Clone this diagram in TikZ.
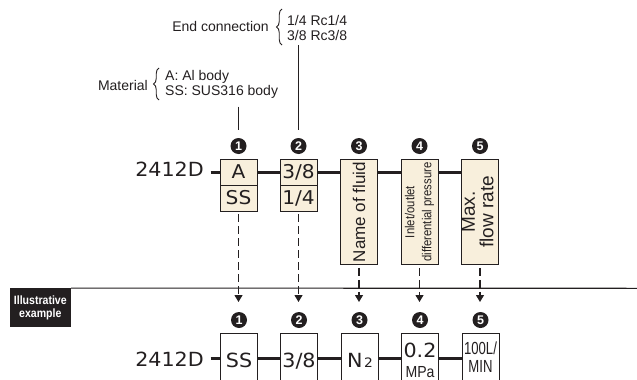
\documentclass[tikz,border=0pt]{standalone}
\usepackage{fontspec}
\usepackage{graphicx}
\setmainfont{Liberation Sans}
\newfontfamily\widefont[FakeStretch=1.06]{DejaVu Sans}
\usetikzlibrary{decorations.pathreplacing,arrows.meta}
\definecolor{ink}{HTML}{231F20}
\definecolor{cream}{HTML}{F8EFDC}
\begin{document}
\begin{tikzpicture}[x=1pt,y=-1pt,
  every node/.style={text=ink},
  cell/.style={draw=ink, fill=cream, line width=0.9pt, minimum width=37pt, minimum height=26pt, inner sep=0pt,
     text height=13.6pt, text depth=0pt, font=\widefont\fontsize{19}{19}\selectfont},
  tallcell/.style={draw=ink, fill=cream, line width=0.9pt, minimum width=37pt, minimum height=105pt, inner sep=0pt},
  lowcell/.style={draw=ink, fill=white, line width=0.9pt, minimum width=37pt, minimum height=60pt, inner sep=0pt},
  num/.style={circle, fill=ink, text=white, minimum size=16pt, inner sep=0pt, font=\bfseries\fontsize{12.5}{12.5}\selectfont},
  mainline/.style={draw=ink, line width=3pt},
  leader/.style={draw=ink, line width=0.9pt},
  dasharrow/.style={draw=ink, line width=1.1pt, dash pattern=on 8pt off 4pt, -{Triangle[width=8pt,length=7pt]}},
  bracestyle/.style={draw=ink, line width=0.9pt, decorate, decoration={brace, amplitude=5.5pt}},
  lab/.style={inner sep=0pt, font=\fontsize{14}{15}\selectfont, align=left},
  big/.style={inner sep=0pt, font=\widefont\fontsize{19.5}{19.5}\selectfont}
]
\useasboundingbox (0,0) rectangle (637,380);
\clip (0,0) rectangle (637,380);

% ---- callouts ----
\node[lab, anchor=east] (endc) at (269,26) {End connection};
\node[lab, anchor=west] (endv) at (287,27.5) {1/4 Rc1/4\\3/8 Rc3/8};
\draw[bracestyle] (282,45) -- (282,9);
\node[lab, anchor=east] (mat) at (148,85) {Material};
\node[lab, anchor=west] (matv) at (165,84.5) {A: Al body\\SS: SUS316 body};
\draw[bracestyle] (159,100) -- (159,68);

\coordinate (l1a) at (238.5,106.5);
\coordinate (l1b) at (238.5,130);
\coordinate (l2a) at (298.5,45);
\coordinate (l2b) at (298.5,130);
\draw[leader] (l1a) -- (l1b);
\draw[leader] (l2a) -- (l2b);

% ---- top row ----
\node[num] (n1) at (238.5,146) {1};
\node[num] (n2) at (298.5,146) {2};
\node[num] (n3) at (359,146) {3};
\node[num] (n4) at (419.5,146) {4};
\node[num] (n5) at (480,146) {5};

\node[big, anchor=base east] (t0) at (204,176.5) {2412D};
\coordinate (m0) at (210.5,172);

\node[tallcell] (b3) at (359,212) {\rotatebox{90}{\fontsize{17}{17}\selectfont Name of fluid}};
\node[tallcell] (b4) at (419.5,212) {\rotatebox{90}{\scalebox{0.87}[1]{\fontsize{13}{17}\selectfont\begin{tabular}{@{}c@{}}Inlet/outlet\\differential pressure\end{tabular}}}};
\node[tallcell] (b5) at (480,212) {\rotatebox{90}{\fontsize{19}{16}\selectfont\begin{tabular}{@{}c@{}}Max.\\flow rate\end{tabular}}};

\node[cell] (a1) at (238.5,172) {A};
\node[cell] (s1) at (238.5,198) {SS};
\node[cell] (a2) at (298.5,172) {3/8};
\node[cell] (s2) at (298.5,198) {1/4};
\draw[mainline] (m0) -- (a1.west);
\draw[mainline] (a1.east) -- (a2.west);
\draw[mainline] (a2.east) -- (b3.west |- a2.east);
\draw[mainline] (b3.east |- a2.east) -- (b4.west |- a2.east);
\draw[mainline] (b4.east |- a2.east) -- (b5.west |- a2.east);

% ---- dashed arrows ----
\coordinate (e1) at (238.5,302);
\coordinate (e2) at (298.5,302);
\coordinate (e3) at (359,302);
\coordinate (e4) at (419.5,302);
\coordinate (e5) at (480,302);
\draw[dasharrow] ([yshift=-3pt]s1.south) -- (e1);
\draw[dasharrow] ([yshift=-3pt]s2.south) -- (e2);
\draw[dasharrow] ([yshift=-3pt]b3.south) -- (e3);
\draw[dasharrow] ([yshift=-3pt]b4.south) -- (e4);
\draw[dasharrow] ([yshift=-3pt]b5.south) -- (e5);

% ---- divider & label ----
\node[fill=ink, minimum width=61pt, minimum height=39pt, inner sep=0pt, text=white,
      font=\bfseries\fontsize{12}{13}\selectfont, align=center] (ill) at (40.3,307.8)
      {\scalebox{0.88}[1]{Illustrative}\\\scalebox{0.88}[1]{example}};
\coordinate (dv) at (637,288.3);
\draw[draw=ink, line width=1.1pt] (ill.north east) -- (dv);

% ---- bottom row ----
\node[num] (q1) at (239,320) {1};
\node[num] (q2) at (299,320) {2};
\node[num] (q3) at (359.5,320) {3};
\node[num] (q4) at (420,320) {4};
\node[num] (q5) at (480.5,320) {5};

\node[big, anchor=base east] (t1) at (204,366) {2412D};
\coordinate (m1) at (210.5,358.5);
\node[lowcell] (c1) at (239,363.5) {};
\node[lowcell] (c2) at (299,363.5) {};
\node[lowcell] (c3) at (359.5,363.5) {};
\node[lowcell] (c4) at (420,363.5) {};
\node[lowcell] (c5) at (480.5,363.5) {};
\draw[mainline] (m1) -- (c1.west |- m1);
\draw[mainline] (c1.east |- m1) -- (c2.west |- m1);
\draw[mainline] (c2.east |- m1) -- (c3.west |- m1);
\draw[mainline] (c3.east |- m1) -- (c4.west |- m1);
\draw[mainline] (c4.east |- m1) -- (c5.west |- m1);

\node[big, anchor=base] (x1) at (239,367) {SS};
\node[big, anchor=base] (x2) at (299,367) {3/8};
\node[big, anchor=base] (x3) at (360,367) {N\kern1.5pt{\fontsize{13}{13}\selectfont 2}};
\node[big, anchor=base] (x4) at (420,357) {0.2};
\node[inner sep=0pt, anchor=base, font=\fontsize{16}{16}\selectfont] (x4b) at (420,377.5) {\scalebox{0.88}[1]{MPa}};
\node[inner sep=0pt, anchor=base, font=\fontsize{17.5}{17.5}\selectfont] (x5) at (480.5,354) {\scalebox{0.75}[1]{100L/}};
\node[inner sep=0pt, anchor=base, font=\fontsize{17.5}{17.5}\selectfont] (x5b) at (480.5,372) {\scalebox{0.75}[1]{MIN}};
\end{tikzpicture}
\end{document}
